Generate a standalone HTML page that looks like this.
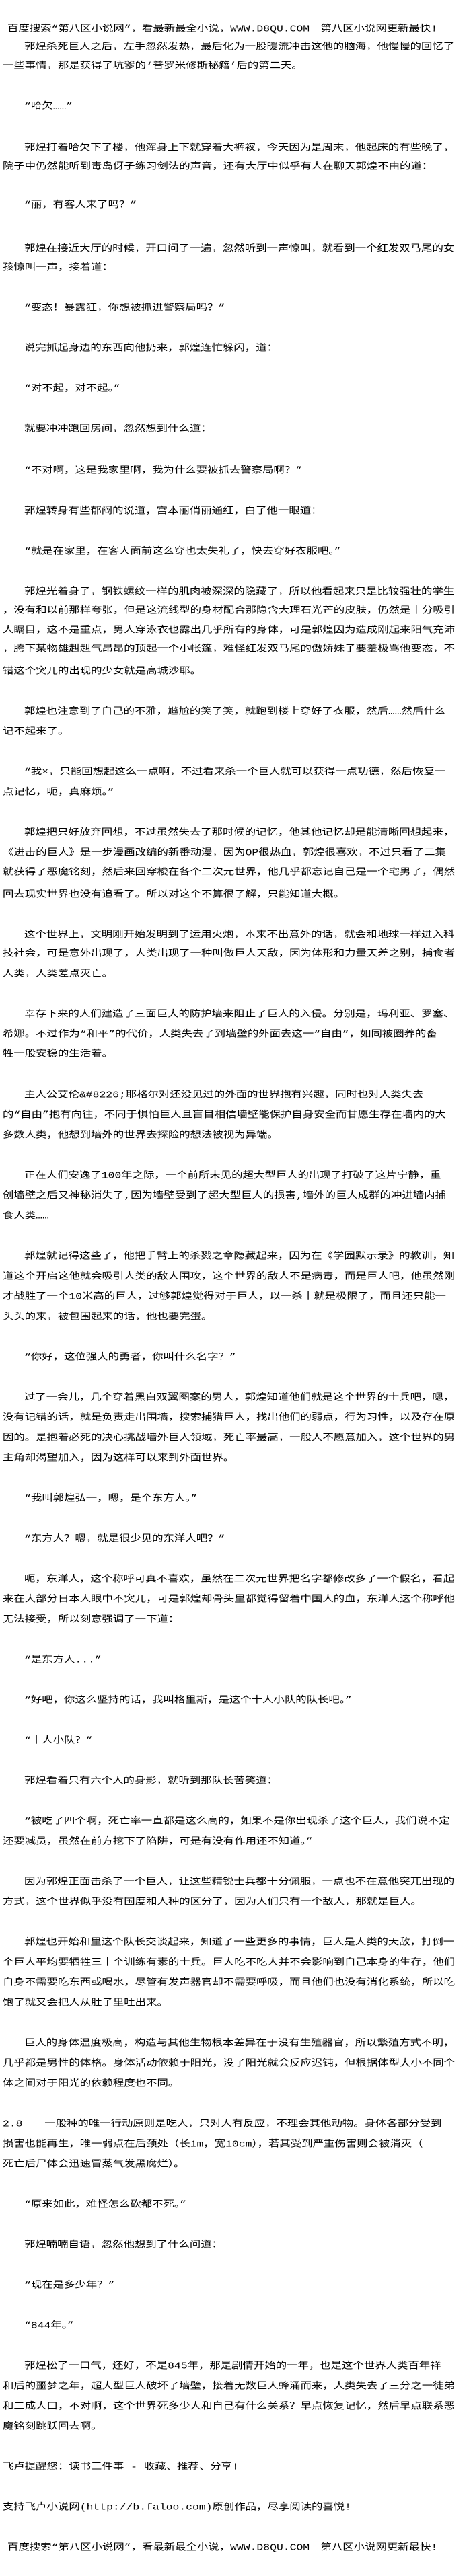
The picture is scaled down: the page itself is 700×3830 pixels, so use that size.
<!DOCTYPE html>
<html><head><meta charset="utf-8">
<style>
html,body{margin:0;padding:0;background:#fff;}
body{width:700px;height:3830px;position:relative;overflow:hidden;color:#000;
font-family:"Liberation Mono","Noto Sans CJK SC",monospace;}
div.l{position:absolute;height:30px;line-height:30px;font-size:16.4px;white-space:nowrap;transform:scaleY(0.82);transform-origin:left center;}
.i{left:36px}.n{left:4px}.h{left:11px}
</style></head><body>
<div class="l h" style="top:28px">百度搜索“第八区小说网”，看最新最全小说，WWW.D8QU.COM　第八区小说网更新最快!</div>
<div class="l i" style="top:55px">郭煌杀死巨人之后，左手忽然发热，最后化为一股暖流冲击这他的脑海，他慢慢的回忆了</div>
<div class="l n" style="top:83px">一些事情，那是获得了坑爹的‘普罗米修斯秘籍’后的第二天。</div>
<div class="l i" style="top:143px">“哈欠……”</div>
<div class="l i" style="top:205px">郭煌打着哈欠下了楼，他浑身上下就穿着大裤衩，今天因为是周末，他起床的有些晚了，</div>
<div class="l n" style="top:233px">院子中仍然能听到毒岛伢子练习剑法的声音，还有大厅中似乎有人在聊天郭煌不由的道：</div>
<div class="l i" style="top:290px">“丽，有客人来了吗？”</div>
<div class="l i" style="top:355px">郭煌在接近大厅的时候，开口问了一遍，忽然听到一声惊叫，就看到一个红发双马尾的女</div>
<div class="l n" style="top:383px">孩惊叫一声，接着道：</div>
<div class="l i" style="top:443px">“变态！暴露狂，你想被抓进警察局吗？”</div>
<div class="l i" style="top:503px">说完抓起身边的东西向他扔来，郭煌连忙躲闪，道：</div>
<div class="l i" style="top:563px">“对不起，对不起。”</div>
<div class="l i" style="top:623px">就要冲冲跑回房间，忽然想到什么道：</div>
<div class="l i" style="top:685px">“不对啊，这是我家里啊，我为什么要被抓去警察局啊？”</div>
<div class="l i" style="top:745px">郭煌转身有些郁闷的说道，宫本丽俏丽通红，白了他一眼道：</div>
<div class="l i" style="top:805px">“就是在家里，在客人面前这么穿也太失礼了，快去穿好衣服吧。”</div>
<div class="l i" style="top:865px">郭煌光着身子，钢铁螺纹一样的肌肉被深深的隐藏了，所以他看起来只是比较强壮的学生</div>
<div class="l n" style="top:893px">，没有和以前那样夸张，但是这流线型的身材配合那隐含大理石光芒的皮肤，仍然是十分吸引</div>
<div class="l n" style="top:922px">人瞩目，这不是重点，男人穿泳衣也露出几乎所有的身体，可是郭煌因为造成刚起来阳气充沛</div>
<div class="l n" style="top:950px">，胯下某物雄赳赳气昂昂的顶起一个小帐篷，难怪红发双马尾的傲娇妹子要羞极骂他变态，不</div>
<div class="l n" style="top:983px">错这个突兀的出现的少女就是高城沙耶。</div>
<div class="l i" style="top:1043px">郭煌也注意到了自己的不雅，尴尬的笑了笑，就跑到楼上穿好了衣服，然后……然后什么</div>
<div class="l n" style="top:1073px">记不起来了。</div>
<div class="l i" style="top:1133px">“我×，只能回想起这么一点啊，不过看来杀一个巨人就可以获得一点功德，然后恢复一</div>
<div class="l n" style="top:1163px">点记忆，呃，真麻烦。”</div>
<div class="l i" style="top:1223px">郭煌把只好放弃回想，不过虽然失去了那时候的记忆，他其他记忆却是能清晰回想起来，</div>
<div class="l n" style="top:1253px">《进击的巨人》是一步漫画改编的新番动漫，因为OP很热血，郭煌很喜欢，不过只看了二集</div>
<div class="l n" style="top:1282px">就获得了恶魔铭刻，然后来回穿梭在各个二次元世界，他几乎都忘记自己是一个宅男了，偶然</div>
<div class="l n" style="top:1315px">回去现实世界也没有追看了。所以对这个不算很了解，只能知道大概。</div>
<div class="l i" style="top:1375px">这个世界上，文明刚开始发明到了运用火炮，本来不出意外的话，就会和地球一样进入科</div>
<div class="l n" style="top:1403px">技社会，可是意外出现了，人类出现了一种叫做巨人天敌，因为体形和力量天差之别，捕食者</div>
<div class="l n" style="top:1433px">人类，人类差点灭亡。</div>
<div class="l i" style="top:1493px">幸存下来的人们建造了三面巨大的防护墙来阻止了巨人的入侵。分别是，玛利亚、罗塞、</div>
<div class="l n" style="top:1523px">希娜。不过作为“和平”的代价，人类失去了到墙壁的外面去这一“自由”，如同被圈养的畜</div>
<div class="l n" style="top:1552px">牲一般安稳的生活着。</div>
<div class="l i" style="top:1613px">主人公艾伦&amp;#8226;耶格尔对还没见过的外面的世界抱有兴趣，同时也对人类失去</div>
<div class="l n" style="top:1643px">的“自由”抱有向往，不同于惧怕巨人且盲目相信墙壁能保护自身安全而甘愿生存在墙内的大</div>
<div class="l n" style="top:1673px">多数人类，他想到墙外的世界去探险的想法被视为异端。</div>
<div class="l i" style="top:1733px">正在人们安逸了100年之际，一个前所未见的超大型巨人的出现了打破了这片宁静，重</div>
<div class="l n" style="top:1763px">创墙壁之后又神秘消失了,因为墙壁受到了超大型巨人的损害,墙外的巨人成群的冲进墙内捕</div>
<div class="l n" style="top:1793px">食人类……</div>
<div class="l i" style="top:1853px">郭煌就记得这些了，他把手臂上的杀戮之章隐藏起来，因为在《学园默示录》的教训，知</div>
<div class="l n" style="top:1883px">道这个开启这他就会吸引人类的敌人围攻，这个世界的敌人不是病毒，而是巨人吧，他虽然刚</div>
<div class="l n" style="top:1913px">才战胜了一个10米高的巨人，过够郭煌觉得对于巨人，以一杀十就是极限了，而且还只能一</div>
<div class="l n" style="top:1943px">头头的来，被包围起来的话，他也要完蛋。</div>
<div class="l i" style="top:2003px">“你好，这位强大的勇者，你叫什么名字？”</div>
<div class="l i" style="top:2063px">过了一会儿，几个穿着黑白双翼图案的男人，郭煌知道他们就是这个世界的士兵吧，嗯，</div>
<div class="l n" style="top:2093px">没有记错的话，就是负责走出围墙，搜索捕猎巨人，找出他们的弱点，行为习性，以及存在原</div>
<div class="l n" style="top:2123px">因的。是抱着必死的决心挑战墙外巨人领域，死亡率最高，一般人不愿意加入，这个世界的男</div>
<div class="l n" style="top:2153px">主角却渴望加入，因为这样可以来到外面世界。</div>
<div class="l i" style="top:2213px">“我叫郭煌弘一，嗯，是个东方人。”</div>
<div class="l i" style="top:2273px">“东方人？嗯，就是很少见的东洋人吧？”</div>
<div class="l i" style="top:2333px">呃，东洋人，这个称呼可真不喜欢，虽然在二次元世界把名字都修改多了一个假名，看起</div>
<div class="l n" style="top:2363px">来在大部分日本人眼中不突兀，可是郭煌却骨头里都觉得留着中国人的血，东洋人这个称呼他</div>
<div class="l n" style="top:2393px">无法接受，所以刻意强调了一下道：</div>
<div class="l i" style="top:2453px">“是东方人...”</div>
<div class="l i" style="top:2513px">“好吧，你这么坚持的话，我叫格里斯，是这个十人小队的队长吧。”</div>
<div class="l i" style="top:2573px">“十人小队？”</div>
<div class="l i" style="top:2633px">郭煌看着只有六个人的身影，就听到那队长苦笑道：</div>
<div class="l i" style="top:2693px">“被吃了四个啊，死亡率一直都是这么高的，如果不是你出现杀了这个巨人，我们说不定</div>
<div class="l n" style="top:2723px">还要减员，虽然在前方挖下了陷阱，可是有没有作用还不知道。”</div>
<div class="l i" style="top:2783px">因为郭煌正面击杀了一个巨人，让这些精锐士兵都十分佩服，一点也不在意他突兀出现的</div>
<div class="l n" style="top:2813px">方式，这个世界似乎没有国度和人种的区分了，因为人们只有一个敌人，那就是巨人。</div>
<div class="l i" style="top:2873px">郭煌也开始和里这个队长交谈起来，知道了一些更多的事情，巨人是人类的天敌，打倒一</div>
<div class="l n" style="top:2903px">个巨人平均要牺牲三十个训练有素的士兵。巨人吃不吃人并不会影响到自己本身的生存，他们</div>
<div class="l n" style="top:2933px">自身不需要吃东西或喝水，尽管有发声器官却不需要呼吸，而且他们也没有消化系统，所以吃</div>
<div class="l n" style="top:2963px">饱了就又会把人从肚子里吐出来。</div>
<div class="l i" style="top:3023px">巨人的身体温度极高，构造与其他生物根本差异在于没有生殖器官，所以繁殖方式不明，</div>
<div class="l n" style="top:3053px">几乎都是男性的体格。身体活动依赖于阳光，没了阳光就会反应迟钝，但根据体型大小不同个</div>
<div class="l n" style="top:3083px">体之间对于阳光的依赖程度也不同。</div>
<div class="l n" style="top:3143px">2.8　　一般种的唯一行动原则是吃人，只对人有反应，不理会其他动物。身体各部分受到</div>
<div class="l n" style="top:3173px">损害也能再生，唯一弱点在后颈处（长1m，宽10cm），若其受到严重伤害则会被消灭（</div>
<div class="l n" style="top:3203px">死亡后尸体会迅速冒蒸气发黑腐烂）。</div>
<div class="l i" style="top:3263px">“原来如此，难怪怎么砍都不死。”</div>
<div class="l i" style="top:3323px">郭煌喃喃自语，忽然他想到了什么问道：</div>
<div class="l i" style="top:3383px">“现在是多少年？”</div>
<div class="l i" style="top:3443px">“844年。”</div>
<div class="l i" style="top:3503px">郭煌松了一口气，还好，不是845年，那是剧情开始的一年，也是这个世界人类百年祥</div>
<div class="l n" style="top:3533px">和后的噩梦之年，超大型巨人破坏了墙壁，接着无数巨人蜂涌而来，人类失去了三分之一徒弟</div>
<div class="l n" style="top:3563px">和二成人口，不对啊，这个世界死多少人和自己有什么关系？早点恢复记忆，然后早点联系恶</div>
<div class="l n" style="top:3593px">魔铭刻跳跃回去啊。</div>
<div class="l n" style="top:3653px">飞卢提醒您：读书三件事 - 收藏、推荐、分享!</div>
<div class="l n" style="top:3713px">支持飞卢小说网(http://b.faloo.com)原创作品，尽享阅读的喜悦!</div>
<div class="l h" style="top:3773px">百度搜索“第八区小说网”，看最新最全小说，WWW.D8QU.COM　第八区小说网更新最快!</div>
</body></html>
